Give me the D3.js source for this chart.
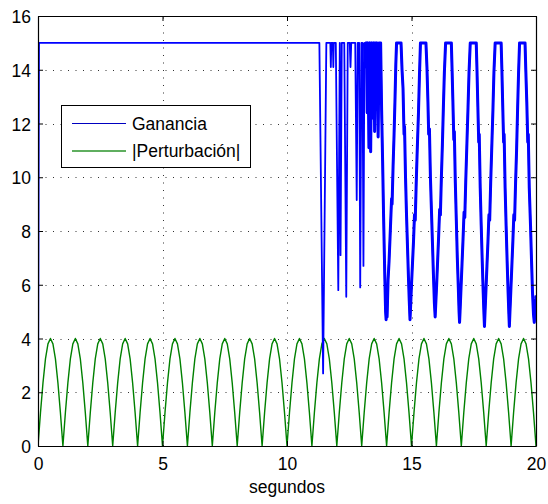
<!DOCTYPE html>
<html><head><meta charset="utf-8">
<script src="https://cdn.jsdelivr.net/npm/d3@7"></script>
<style>body{margin:0;background:#fff}</style>
</head><body>
<svg id="c" width="548" height="504"></svg>
<script>
const xTicks = [0, 5, 10, 15, 20];
const yTicks = [0, 2, 4, 6, 8, 10, 12, 14, 16];
const seriesNames = ["Ganancia", "|Perturbación|"];
const xLabel = "segundos";

// Ganancia: [t, value]
const gananciaPts = [
 [0,0],[0.04,15],[11.30,15],[11.45,2.7],[11.58,15],[11.74,15],[11.76,14.1],[11.78,15],
 [11.84,15],[11.86,14.1],[11.88,15],[11.96,15],[12.06,5.8],[12.12,15],[12.15,7.1],[12.20,15],
 [12.30,15],[12.38,5.55],[12.44,15],[12.52,15],[12.55,14.1],[12.58,15],[12.74,15],[12.80,9.15],
 [12.84,15],[12.90,15],[12.94,5.9],[12.99,15],[13.03,15],[13.07,6.7],[13.11,15],[13.16,14.1],
 [13.19,15],[13.22,12.4],[13.25,15],[13.29,11.1],[13.33,15],[13.36,10.95],[13.40,15],[13.44,12.2],
 [13.48,15],[13.52,11.7],[13.55,15],[13.58,13],[13.62,15],[13.66,11.5],[13.70,15],[13.76,15],
 [13.80,12.5],[13.84,10.6],[13.88,8.5],[13.93,6.2],[13.96,5.0],[13.98,4.7],
 [14.00,5.0],[14.02,4.8],[14.06,6.2],[14.10,6.9],[14.14,7.8],[14.20,9.2],[14.22,9.0],[14.26,10.4],
 [14.30,11.6],[14.34,13.0],[14.37,14.2],[14.40,15],[14.58,15],[14.62,14.0],[14.66,13.3],[14.70,11.6],
 [14.72,11.9],[14.76,10.0],[14.80,8.6],[14.84,7.4],[14.88,6.2],[14.91,5.4],[14.94,4.7],
 [14.96,5.1],[15.00,6.0],[15.04,6.8],[15.08,7.6],[15.12,8.6],[15.15,8.4],[15.19,9.8],[15.23,11.0],
 [15.28,12.4],[15.32,13.8],[15.36,15],[15.58,15],[15.62,14.1],[15.66,12.8],[15.69,11.6],[15.72,11.8],
 [15.76,10.0],[15.80,8.8],[15.84,7.6],[15.88,6.4],[15.92,5.3],[15.95,4.8],
 [15.97,5.2],[16.01,6.0],[16.05,6.9],[16.09,7.8],[16.13,8.8],[16.16,8.6],[16.20,10.0],[16.24,11.2],
 [16.28,12.6],[16.32,13.9],[16.37,15],[16.60,15],[16.63,14.0],[16.66,12.9],[16.70,11.4],[16.72,11.7],
 [16.76,9.8],[16.80,8.4],[16.84,7.0],[16.88,5.9],[16.91,5.0],[16.93,4.6],
 [16.95,5.0],[16.99,5.9],[17.03,6.8],[17.07,7.7],[17.11,8.7],[17.14,8.5],[17.18,9.9],[17.22,11.1],
 [17.27,12.6],[17.31,13.9],[17.36,15],[17.60,15],[17.63,14.0],[17.66,12.8],[17.70,11.3],[17.72,11.6],
 [17.76,9.6],[17.80,8.2],[17.84,6.9],[17.88,5.7],[17.91,4.9],[17.93,4.45],
 [17.95,4.9],[17.99,5.8],[18.03,6.7],[18.07,7.6],[18.11,8.6],[18.14,8.4],[18.18,9.8],[18.22,11.0],
 [18.27,12.5],[18.31,13.9],[18.36,15],[18.60,15],[18.63,14.0],[18.66,12.8],[18.70,11.3],[18.72,11.6],
 [18.76,9.6],[18.80,8.2],[18.84,6.9],[18.88,5.7],[18.91,4.9],[18.93,4.45],
 [18.95,4.9],[18.99,5.8],[19.03,6.7],[19.07,7.6],[19.11,8.6],[19.14,8.4],[19.18,9.8],[19.22,11.0],
 [19.26,12.5],[19.30,13.9],[19.34,15],[19.56,15],[19.59,14.0],[19.63,12.8],[19.67,11.3],[19.69,11.6],
 [19.73,9.6],[19.78,8.2],[19.82,6.9],[19.86,5.7],[19.90,4.9],[19.93,4.6],
 [19.96,5.0],[20.00,5.6]
];
// start of the chattering (thicker) stretch, in seconds
const chatterStart = 13.1;

const perturbStep = 0.1;
const perturbV = [
 0,1.24,2.35,3.24,3.80,4.00,3.80,3.24,2.35,1.24,
 0,1.24,2.35,3.24,3.80,4.00,3.80,3.24,2.35,1.24,
 0,1.24,2.35,3.24,3.80,4.00,3.80,3.24,2.35,1.24,
 0,1.24,2.35,3.24,3.80,4.00,3.80,3.24,2.35,1.24,
 0,1.24,2.35,3.24,3.80,4.00,3.80,3.24,2.35,1.24,
 0,1.24,2.35,3.24,3.80,4.00,3.80,3.24,2.35,1.24,
 0,1.24,2.35,3.24,3.80,4.00,3.80,3.24,2.35,1.24,
 0,1.24,2.35,3.24,3.80,4.00,3.80,3.24,2.35,1.24,
 0,1.24,2.35,3.24,3.80,4.00,3.80,3.24,2.35,1.24,
 0,1.24,2.35,3.24,3.80,4.00,3.80,3.24,2.35,1.24,
 0,1.24,2.35,3.24,3.80,4.00,3.80,3.24,2.35,1.24,
 0,1.24,2.35,3.24,3.80,4.00,3.80,3.24,2.35,1.24,
 0,1.24,2.35,3.24,3.80,4.00,3.80,3.24,2.35,1.24,
 0,1.24,2.35,3.24,3.80,4.00,3.80,3.24,2.35,1.24,
 0,1.24,2.35,3.24,3.80,4.00,3.80,3.24,2.35,1.24,
 0,1.24,2.35,3.24,3.80,4.00,3.80,3.24,2.35,1.24,
 0,1.24,2.35,3.24,3.80,4.00,3.80,3.24,2.35,1.24,
 0,1.24,2.35,3.24,3.80,4.00,3.80,3.24,2.35,1.24,
 0,1.24,2.35,3.24,3.80,4.00,3.80,3.24,2.35,1.24,
 0,1.24,2.35,3.24,3.80,4.00,3.80,3.24,2.35,1.24,
 0
];

const colors = ["#0000ff", "#008000"];
const font = "'Liberation Sans', Arial, sans-serif";

const L = 38, R = 536, T = 16, B = 446;
const x = d3.scaleLinear().domain([0, 20]).range([L, R]);
const y = d3.scaleLinear().domain([0, 16]).range([B, T]);

const svg = d3.select("#c");
svg.append("rect").attr("width", 548).attr("height", 504).attr("fill", "#fff");

svg.append("defs").append("clipPath").attr("id", "clip")
  .append("rect").attr("x", L).attr("y", T - 1).attr("width", R - L).attr("height", B - T + 1);

// grid
const grid = svg.append("g").attr("stroke", "#333").attr("stroke-width", 1)
  .attr("stroke-dasharray", "1,6.5").attr("fill", "none");
yTicks.filter(v => v > 0 && v < 16).forEach(v => {
  grid.append("line").attr("x1", L).attr("x2", R)
    .attr("y1", Math.round(y(v)) + 0.5).attr("y2", Math.round(y(v)) + 0.5);
});
xTicks.filter(v => v > 0 && v < 20).forEach(v => {
  grid.append("line").attr("y1", B).attr("y2", T)
    .attr("x1", Math.round(x(v)) + 0.5).attr("x2", Math.round(x(v)) + 0.5);
});

// series
const plot = svg.append("g").attr("clip-path", "url(#clip)");
const pertLine = d3.line().x((d, i) => x(i * perturbStep)).y(d => y(d));
plot.append("path").datum(perturbV).attr("d", pertLine)
  .attr("fill", "none").attr("stroke", colors[1]).attr("stroke-width", 1.4)
  .attr("stroke-linejoin", "round");
const ganLine = d3.line().x(d => x(d[0])).y(d => y(d[1]));
plot.append("path").datum(gananciaPts).attr("d", ganLine)
  .attr("fill", "none").attr("stroke", colors[0]).attr("stroke-width", 1.8)
  .attr("stroke-linejoin", "round");
// chattering part looks thicker in the original
plot.append("path").datum(gananciaPts.filter(d => d[0] >= chatterStart)).attr("d", ganLine)
  .attr("fill", "none").attr("stroke", colors[0]).attr("stroke-width", 3)
  .attr("stroke-linejoin", "round");

// axes (box with inward ticks)
const axB = svg.append("g").attr("transform", `translate(0,${B})`)
  .call(d3.axisBottom(x).tickValues(xTicks).tickSizeInner(-5).tickSizeOuter(0).tickPadding(12));
const axT = svg.append("g").attr("transform", `translate(0,${T})`)
  .call(d3.axisTop(x).tickValues(xTicks).tickSizeInner(-5).tickSizeOuter(0).tickFormat(""));
const axL = svg.append("g").attr("transform", `translate(${L},0)`)
  .call(d3.axisLeft(y).tickValues(yTicks).tickSizeInner(-5).tickSizeOuter(0).tickPadding(7));
const axR = svg.append("g").attr("transform", `translate(${R},0)`)
  .call(d3.axisRight(y).tickValues(yTicks).tickSizeInner(-5).tickSizeOuter(0).tickFormat(""));
[axB, axT, axL, axR].forEach(a => {
  a.selectAll(".domain").attr("stroke", "#000").attr("stroke-width", 1.2);
  a.selectAll(".tick line").attr("stroke", "#000");
  a.selectAll("text").attr("font-family", font).attr("font-size", 17.5).attr("fill", "#000");
});
axL.selectAll("text").attr("dy", "0.38em");

// x label
svg.append("text").attr("x", (L + R) / 2).attr("y", 493).attr("text-anchor", "middle")
  .attr("font-family", font).attr("font-size", 17.5).attr("fill", "#000").text(xLabel);

// legend
const lg = svg.append("g");
lg.append("rect").attr("x", 61.5).attr("y", 105.5).attr("width", 189).attr("height", 62)
  .attr("fill", "#fff").attr("stroke", "#000").attr("stroke-width", 1);
seriesNames.forEach((name, i) => {
  const yy = 123.5 + i * 27.5;
  lg.append("line").attr("x1", 72).attr("x2", 126).attr("y1", yy).attr("y2", yy)
    .attr("stroke", i === 0 ? "#0000c0" : "#5fae5f").attr("stroke-width", i === 0 ? 1.2 : 1.8);
  lg.append("text").attr("x", 132).attr("y", yy + 6.2)
    .attr("font-family", font).attr("font-size", 17.5).attr("fill", "#000").text(name);
});
</script>
</body></html>
